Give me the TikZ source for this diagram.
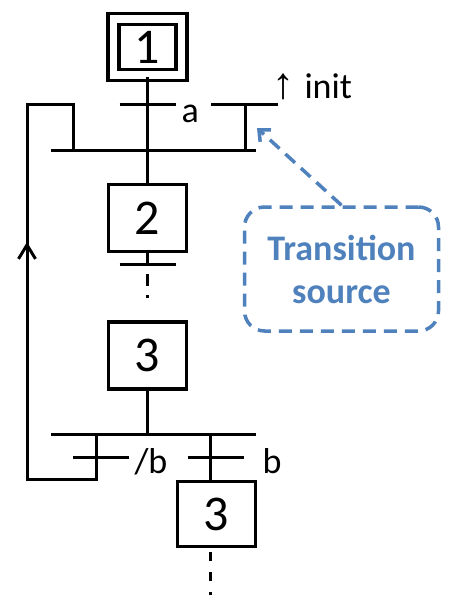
\documentclass[tikz,border=0pt]{standalone}
\usepackage{fontspec}
\setmainfont{Carlito}
\newfontfamily\arrowfont{Liberation Sans}
\usetikzlibrary{arrows.meta}
\definecolor{calloutblue}{RGB}{79,129,189}

\begin{document}
\begin{tikzpicture}[x=1pt,y=-1pt,line width=3pt,
  stepbox/.style={draw,line width=3.5pt,minimum width=78pt,minimum height=67pt,inner sep=0pt,font=\fontsize{50}{50}\selectfont},
  lbl/.style={font=\fontsize{36}{36}\selectfont,inner sep=0pt},
  barb/.style={-{Straight Barb[length=14pt,width=17pt]}}]
  \useasboundingbox (0,0) rectangle (450,595);
  \node[stepbox,double,double distance=7.5pt,minimum width=68pt,minimum height=56pt] (s1) at (147.5,47) {1};
  \node[stepbox] (s2) at (147.5,218) {2};
  \node[stepbox] (s3) at (147.5,355.5) {3};
  \node[stepbox,minimum height=65pt] (s3b) at (216.5,514) {3};
  \coordinate (ta) at (147.5,104);
  \coordinate (t2) at (147.5,264);
  \coordinate (d2) at (147.5,274);
  \coordinate (e2) at (147.5,298);
  \coordinate (dl) at (96,434);
  \coordinate (dr) at (210,434);
  \coordinate (ll) at (27,479);
  \coordinate (lm) at (27,242);
  \coordinate (lu) at (27,104);
  \coordinate (cl) at (73,150);
  \coordinate (sr) at (245,104);
  \coordinate (d3) at (210,552);
  \coordinate (e3) at (210,595);
  \coordinate (tip) at (257,128);
  \draw (s1.south) -- (s2.north);
  \draw (ta) +(-28,0) -- +(28,0);
  \node[lbl,anchor=base west] (la) at (180,122) {a};
  \draw (51,150) -- (256,150);
  \draw (dl) |- (ll) -- (lu) -| (cl);
  \draw[barb] (ll) -- (lm);
  \draw (211,104) -- (278,104);
  \draw (sr) -- (sr |- cl);
  \node[lbl,anchor=base west] (init) at (271,98) {{\arrowfont\fontsize{44}{44}\selectfont ↑}\hspace{10pt}init};
  \draw (s2.south) -- (t2);
  \draw (t2) +(-28,0) -- +(28,0);
  \draw[dash pattern=on 12pt off 9pt] (d2) -- (e2);
  \draw (s3.south) -- (s3.south |- dl);
  \draw (51,434) -- (256,434);
  \draw (dr) -- (dr |- s3b.north);
  \foreach \x in {101,215.5}
    \draw (\x-28,457) -- (\x+28,457);
  \node[lbl,anchor=base west] (nb) at (133,473) {/b};
  \node[lbl,anchor=base west] (pb) at (261,473) {b};
  \draw[dash pattern=on 9pt off 11pt] (d3) -- (e3);
  \node[draw=calloutblue,dash pattern=on 13pt off 8pt,rounded corners=20pt,line width=3.5pt,minimum width=194pt,minimum height=124pt,text=calloutblue,font=\bfseries\fontsize{36}{43}\selectfont,align=center] (src) at (341.5,269) {Transition\\source};
  \draw[calloutblue,dash pattern=on 13pt off 8pt,line width=3.5pt,-{Straight Barb[length=9pt,width=16pt]}] (src.north) -- (tip);
\end{tikzpicture}
\end{document}
